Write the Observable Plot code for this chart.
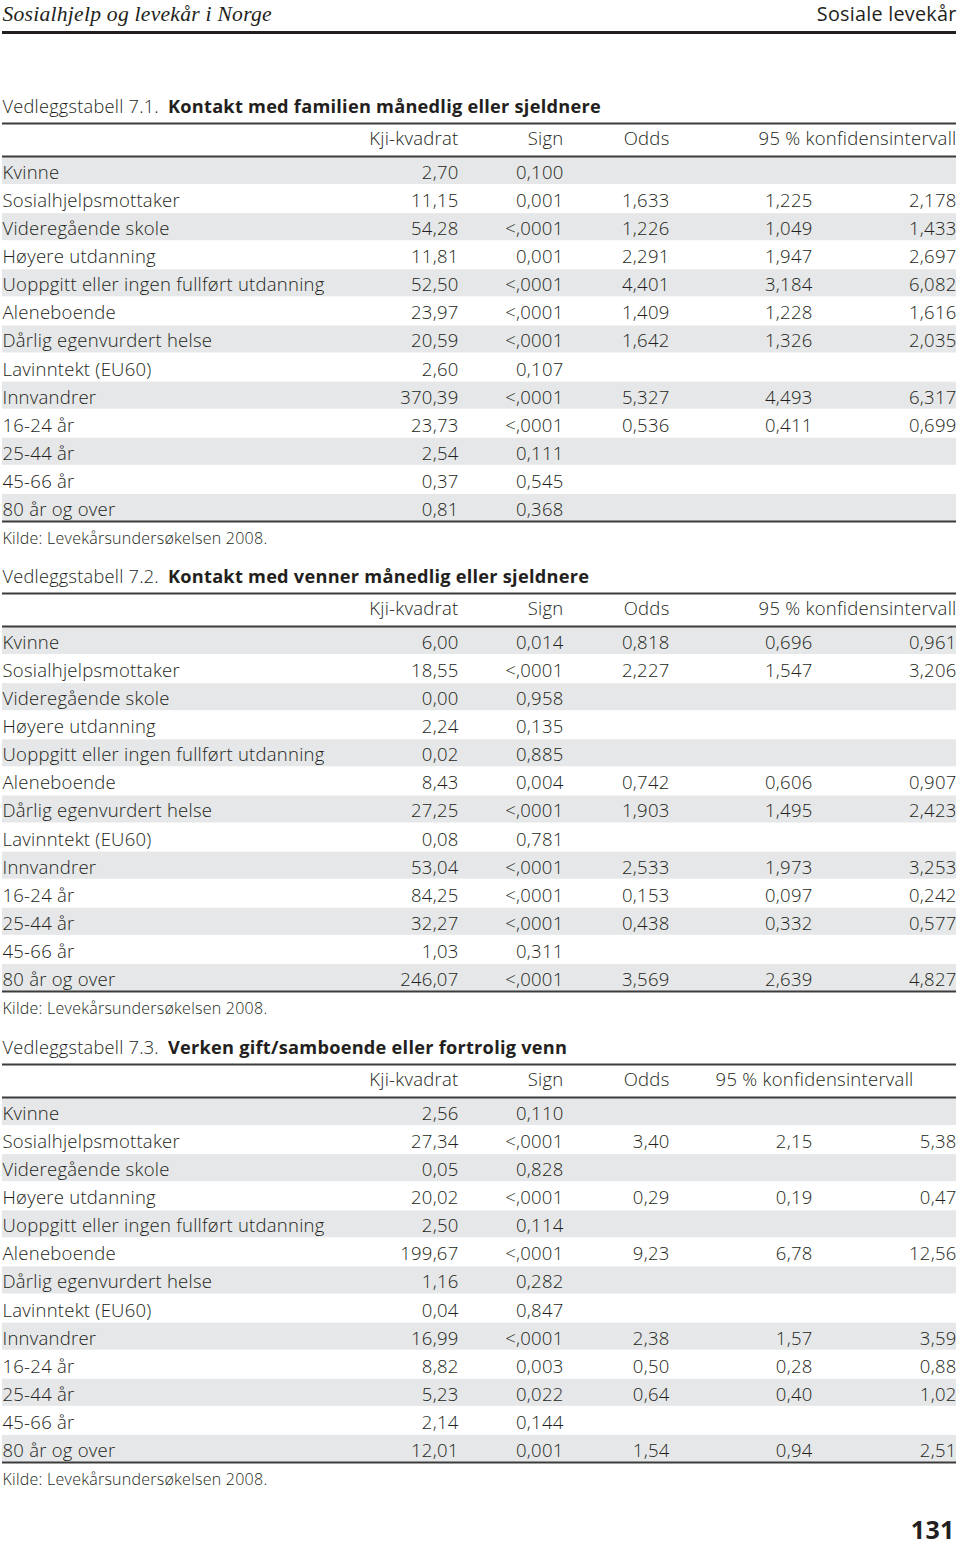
<!DOCTYPE html>
<html><head><meta charset="utf-8">
<script src="https://cdn.jsdelivr.net/npm/d3@7"></script>
<script src="https://cdn.jsdelivr.net/npm/@observablehq/plot@0.6"></script>
<style>html,body{margin:0;padding:0;background:#fff}#chart svg{display:block}#chart svg text{letter-spacing:0.25px}</style>
</head><body><div id="chart"></div>
<script>
// ---------- data ----------
const pageLeft = "Sosialhjelp og levekår i Norge";
const pageRight = "Sosiale levekår";
const pageNumber = "131";
const source = "Kilde: Levekårsundersøkelsen 2008.";
const headers = ["Kji-kvadrat", "Sign", "Odds", "95 % konfidensintervall"];
const tableNumbers = ["Vedleggstabell 7.1.", "Vedleggstabell 7.2.", "Vedleggstabell 7.3."];
const tableTitles = [
  "Kontakt med familien månedlig eller sjeldnere",
  "Kontakt med venner månedlig eller sjeldnere",
  "Verken gift/samboende eller fortrolig venn"
];
const labels = ["Kvinne", "Sosialhjelpsmottaker", "Videregående skole", "Høyere utdanning",
  "Uoppgitt eller ingen fullført utdanning", "Aleneboende", "Dårlig egenvurdert helse",
  "Lavinntekt (EU60)", "Innvandrer", "16-24 år", "25-44 år", "45-66 år", "80 år og over"];

const kji1  = ["2,70","11,15","54,28","11,81","52,50","23,97","20,59","2,60","370,39","23,73","2,54","0,37","0,81"];
const sign1 = ["0,100","0,001","<,0001","0,001","<,0001","<,0001","<,0001","0,107","<,0001","<,0001","0,111","0,545","0,368"];
const odds1 = ["","1,633","1,226","2,291","4,401","1,409","1,642","","5,327","0,536","","",""];
const lo1   = ["","1,225","1,049","1,947","3,184","1,228","1,326","","4,493","0,411","","",""];
const hi1   = ["","2,178","1,433","2,697","6,082","1,616","2,035","","6,317","0,699","","",""];

const kji2  = ["6,00","18,55","0,00","2,24","0,02","8,43","27,25","0,08","53,04","84,25","32,27","1,03","246,07"];
const sign2 = ["0,014","<,0001","0,958","0,135","0,885","0,004","<,0001","0,781","<,0001","<,0001","<,0001","0,311","<,0001"];
const odds2 = ["0,818","2,227","","","","0,742","1,903","","2,533","0,153","0,438","","3,569"];
const lo2   = ["0,696","1,547","","","","0,606","1,495","","1,973","0,097","0,332","","2,639"];
const hi2   = ["0,961","3,206","","","","0,907","2,423","","3,253","0,242","0,577","","4,827"];

const kji3  = ["2,56","27,34","0,05","20,02","2,50","199,67","1,16","0,04","16,99","8,82","5,23","2,14","12,01"];
const sign3 = ["0,110","<,0001","0,828","<,0001","0,114","<,0001","0,282","0,847","<,0001","0,003","0,022","0,144","0,001"];
const odds3 = ["","3,40","","0,29","","9,23","","","2,38","0,50","0,64","","1,54"];
const lo3   = ["","2,15","","0,19","","6,78","","","1,57","0,28","0,40","","0,94"];
const hi3   = ["","5,38","","0,47","","12,56","","","3,59","0,88","1,02","","2,51"];

// ---------- layout ----------
const W = 960, H = 1545;
const left = 2, right = 956;
const colRight = {kji: 458, sign: 563, odds: 669, lo: 812, hi: 956};
const ciHeaderRight = [956, 956, 913];
const headerLineY = [156, 626, 1097];
const rowPitch = 28.08, bandH = 27;
const FONT = "'Open Sans', 'Noto Sans', sans-serif";
const FS = 18.5;
const INK = "#231f20";

const cols = [[kji1,sign1,odds1,lo1,hi1],[kji2,sign2,odds2,lo2,hi2],[kji3,sign3,odds3,lo3,hi3]];

const rows = [];
const tables = [];
cols.forEach(([kji, sign, odds, lo, hi], t) => {
  const hl = headerLineY[t];
  labels.forEach((label, i) => {
    const top = hl + 1 + i * rowPitch;
    rows.push({t, i, label, kji: kji[i], sign: sign[i], odds: odds[i], lo: lo[i], hi: hi[i],
      top, bottom: top + bandH, base: top + 21.5});
  });
  const bottomLine = hl + 1 + labels.length * rowPitch - 1;
  tables.push({t, number: tableNumbers[t], title: tableTitles[t], topLine: hl - 33,
    headerLine: hl, headerBase: hl - 12, titleBase: hl - 44, bottomLine, sourceBase: bottomLine + 22});
});

// measure the regular part of the title to place the bold part after it
const ctx = document.createElement("canvas").getContext("2d");
function measure(s, font) { ctx.font = font; return ctx.measureText(s).width; }
const TFS = 18.2;
tables.forEach(d => { d.boldX = left + measure(d.number, `300 ${TFS}px ${FONT}`) + d.number.length * 0.25 + 9; });

const lines = tables.flatMap(d => [d.topLine, d.headerLine, d.bottomLine].map(y => ({y})));
const headerCells = tables.flatMap(d => [
  {x: colRight.kji, y: d.headerBase, text: headers[0]},
  {x: colRight.sign, y: d.headerBase, text: headers[1]},
  {x: colRight.odds, y: d.headerBase, text: headers[2]},
  {x: ciHeaderRight[d.t], y: d.headerBase, text: headers[3]}
]);

const common = {fontFamily: FONT, fontSize: FS, fontWeight: 300, fill: INK, lineAnchor: "bottom"};
const numCol = (key) => Plot.text(rows.filter(r => r[key] !== ""), {
  ...common, x: () => colRight[key], y: "base", text: key, textAnchor: "end"
});

const chart = Plot.plot({
  width: W, height: H, margin: 0,
  x: {domain: [0, W], range: [0, W], axis: null},
  y: {domain: [0, H], range: [0, H], axis: null},
  style: {background: "#fff", overflow: "visible"},
  marks: [
    // page header
    Plot.text([pageLeft], {x: left, y: 20, text: d => d, textAnchor: "start", lineAnchor: "bottom",
      fontFamily: "'Liberation Serif', serif", fontStyle: "italic", fontSize: 21.6, fill: INK}),
    Plot.text([pageRight], {x: right, y: 20, text: d => d, textAnchor: "end", lineAnchor: "bottom",
      fontFamily: "'Liberation Sans Narrow', 'Open Sans', sans-serif", fontSize: 19.8, fill: INK}),
    Plot.ruleY([32], {x1: left, x2: right, stroke: INK, strokeWidth: 3}),
    // shaded rows
    Plot.rect(rows.filter(r => r.i % 2 === 0), {x1: left, x2: right, y1: "top", y2: "bottom", fill: "#e6e7e8"}),
    // rules
    Plot.ruleY(lines, {y: "y", x1: left, x2: right, stroke: "#3c3c3c", strokeWidth: 2}),
    // titles
    Plot.text(tables, {x: left, y: "titleBase", text: "number", textAnchor: "start", lineAnchor: "bottom",
      fontFamily: FONT, fontSize: TFS, fontWeight: 300, fill: INK}),
    Plot.text(tables, {x: "boldX", y: "titleBase", text: "title", textAnchor: "start", lineAnchor: "bottom",
      fontFamily: FONT, fontSize: TFS, fontWeight: 700, fill: INK}),
    // headers
    Plot.text(headerCells, {...common, x: "x", y: "y", text: "text", textAnchor: "end"}),
    // row labels
    Plot.text(rows, {...common, x: left, y: "base", text: "label", textAnchor: "start"}),
    numCol("kji"), numCol("sign"), numCol("odds"), numCol("lo"), numCol("hi"),
    // sources
    Plot.text(tables, {x: left, y: "sourceBase", text: () => source, textAnchor: "start", lineAnchor: "bottom",
      fontFamily: FONT, fontSize: 16, fontWeight: 300, fill: INK}),
    // page number
    Plot.text([pageNumber], {x: right - 2, y: 1538, text: d => d, textAnchor: "end", lineAnchor: "bottom",
      fontFamily: FONT, fontSize: 25, fontWeight: 700, fill: INK})
  ]
});
document.getElementById("chart").appendChild(chart);
</script>
</body></html>
